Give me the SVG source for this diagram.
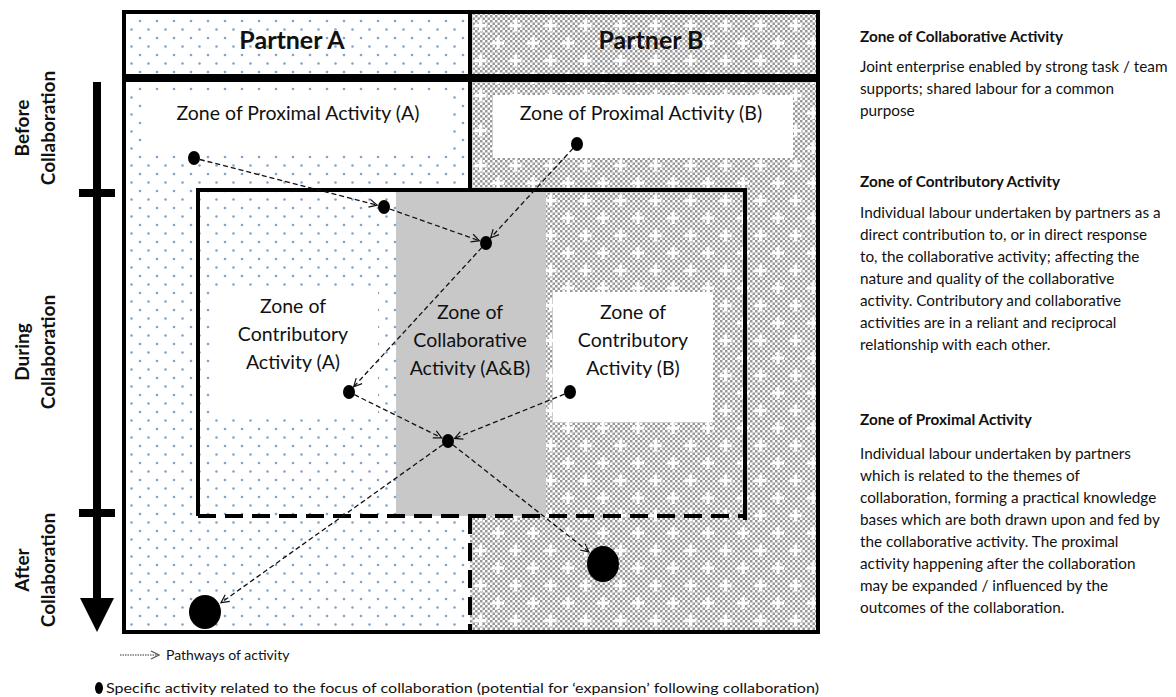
<svg xmlns="http://www.w3.org/2000/svg" width="1176" height="697" viewBox="0 0 1176 697">
<defs>
<pattern id="dots" width="17" height="17" patternUnits="userSpaceOnUse"><rect width="17" height="17" fill="#fff"/><circle cx="4" cy="4" r="1.3" fill="#7fa6c9"/><circle cx="12.5" cy="12.5" r="1.3" fill="#7fa6c9"/></pattern>
<pattern id="chk" width="5" height="5" patternUnits="userSpaceOnUse"><rect width="5" height="5" fill="#fff"/><rect width="2.5" height="2.5" fill="#999"/><rect x="2.5" y="2.5" width="2.5" height="2.5" fill="#999"/></pattern>
<pattern id="plus" width="35" height="35" patternUnits="userSpaceOnUse"><path d="M8 2v12M2 8h12M25.5 19.5v12M19.5 25.5h12" stroke="#fff" stroke-width="3"/></pattern>
<marker id="arr" viewBox="0 0 10 10" refX="9" refY="5" markerWidth="10" markerHeight="10" markerUnits="userSpaceOnUse" orient="auto"><path d="M1 1L9 5L1 9" fill="none" stroke="#111" stroke-width="1.2"/></marker>
<marker id="arrL" viewBox="0 0 10 10" refX="9" refY="5" markerWidth="10" markerHeight="10" markerUnits="userSpaceOnUse" orient="auto"><path d="M1 1L9 5L1 9" fill="none" stroke="#555" stroke-width="1.2"/></marker>
</defs>
<style>
text{font-family:Lato,"Open Sans","Liberation Sans",sans-serif;fill:#111}
.zl{font-size:19.5px;text-anchor:middle}
.hd{font-size:25px;font-weight:bold;text-anchor:middle}
.ax{font-size:19px;font-weight:bold;text-anchor:middle}
.rt{font-size:15.3px;font-weight:bold}
.rb{font-size:15.3px}
.lg{font-size:14px}
.frame{fill:none;stroke:#000;stroke-width:4}
.conn{fill:none;stroke:#111;stroke-width:1.3;stroke-dasharray:5 3;marker-end:url(#arr)}
.dot{fill:#000}
</style>
<rect width="1176" height="697" fill="#fff"/>

<g id="partner-headers">
<rect x="124" y="12" width="346" height="64" fill="url(#dots)"/>
<rect x="470" y="12" width="348" height="64" fill="url(#chk)"/>
<rect x="470" y="12" width="348" height="64" fill="url(#plus)"/>
<rect x="124" y="12" width="694" height="64" class="frame"/>
<line x1="470" y1="12" x2="470" y2="76" stroke="#000" stroke-width="4"/>
<text x="292" y="49" class="hd">Partner A</text>
<text x="651" y="49" class="hd">Partner B</text>
</g>

<g id="main-area">
<rect x="124" y="80" width="346" height="552" fill="url(#dots)"/>
<rect x="470" y="80" width="348" height="552" fill="url(#chk)"/>
<rect x="470" y="80" width="348" height="552" fill="url(#plus)"/>
</g>

<g id="zone-proximal-a">
<rect x="146" y="91" width="306" height="64" fill="#fff"/>
<text x="298" y="120" class="zl">Zone of Proximal Activity (A)</text>
</g>
<g id="zone-proximal-b">
<rect x="493" y="95" width="300" height="63" fill="#fff"/>
<text x="641" y="120" class="zl">Zone of Proximal Activity (B)</text>
</g>

<g id="zone-collaborative">
<rect x="396" y="190" width="150" height="326" fill="#c8c8c8"/>
<text class="zl"><tspan x="470" y="319">Zone of</tspan><tspan x="470" y="347">Collaborative</tspan><tspan x="470" y="375">Activity (A&amp;B)</tspan></text>
</g>

<g id="zone-contributory-a">
<rect x="212" y="288" width="166" height="130" fill="#fff"/>
<text class="zl"><tspan x="293" y="313">Zone of</tspan><tspan x="293" y="341">Contributory</tspan><tspan x="293" y="369">Activity (A)</tspan></text>
</g>
<g id="zone-contributory-b">
<rect x="553" y="292" width="160" height="130" fill="#fff"/>
<text class="zl"><tspan x="633" y="319">Zone of</tspan><tspan x="633" y="347">Contributory</tspan><tspan x="633" y="375">Activity (B)</tspan></text>
</g>

<g id="frames">
<rect x="124" y="80" width="694" height="552" class="frame"/>
<line x1="470" y1="80" x2="470" y2="190" stroke="#000" stroke-width="4"/>
<path d="M198 516V190H745V520" fill="none" stroke="#000" stroke-width="4"/>
<line x1="198" y1="516" x2="745" y2="516" stroke="#000" stroke-width="4" stroke-dasharray="18 9"/>
<line x1="470" y1="516" x2="470" y2="632" stroke="#000" stroke-width="4" stroke-dasharray="18 9"/>
</g>

<g id="time-axis">
<rect x="93" y="82" width="8" height="518" fill="#000"/>
<polygon points="80,598 114,598 97,632" fill="#000"/>
<rect x="79" y="189" width="36" height="8" fill="#000"/>
<rect x="79" y="509" width="36" height="8" fill="#000"/>
<text class="ax" transform="translate(29,128) rotate(-90)">Before</text>
<text class="ax" transform="translate(55,128) rotate(-90)">Collaboration</text>
<text class="ax" transform="translate(29,352) rotate(-90)">During</text>
<text class="ax" transform="translate(55,352) rotate(-90)">Collaboration</text>
<text class="ax" transform="translate(29,570) rotate(-90)">After</text>
<text class="ax" transform="translate(55,570) rotate(-90)">Collaboration</text>
</g>

<g id="connectors">
<path class="conn" d="M199.8 159.5L377.2 205.2"/>
<path class="conn" d="M389.7 209L479.4 240.7"/>
<path class="conn" d="M573 148.4L490.7 237.8"/>
<path class="conn" d="M481.9 247.4L353.7 386.8"/>
<path class="conn" d="M354.4 394.7L441.7 437.9"/>
<path class="conn" d="M564.4 394.2L454.5 438.4"/>
<path class="conn" d="M443.1 444.5L221 602.7"/>
<path class="conn" d="M452.7 444.7L588.9 551.9"/>
</g>

<g id="activities">
<ellipse class="dot" cx="194" cy="158" rx="6" ry="7"/>
<ellipse class="dot" cx="384" cy="207" rx="6" ry="7"/>
<ellipse class="dot" cx="486" cy="243" rx="6" ry="7"/>
<ellipse class="dot" cx="577" cy="144" rx="6" ry="7"/>
<ellipse class="dot" cx="349" cy="392" rx="6" ry="7"/>
<ellipse class="dot" cx="570" cy="392" rx="6" ry="7"/>
<ellipse class="dot" cx="448" cy="441" rx="6" ry="7"/>
<ellipse class="dot" cx="205" cy="612" rx="16" ry="17"/>
<ellipse class="dot" cx="603" cy="564" rx="16" ry="18"/>
</g>

<g id="legend">
<line x1="120" y1="655" x2="159" y2="655" stroke="#777" stroke-width="1.5" stroke-dasharray="1.5 1" marker-end="url(#arrL)"/>
<text x="166" y="660" class="lg">Pathways of activity</text>
<ellipse cx="99" cy="688" rx="4" ry="6" fill="#000"/>
<text x="106" y="693" class="lg" textLength="713" lengthAdjust="spacingAndGlyphs">Specific activity related to the focus of collaboration (potential for ‘expansion’ following collaboration)</text>
</g>

<g id="descriptions">
<text x="860" y="42" class="rt">Zone of Collaborative Activity</text>
<text class="rb"><tspan x="860" y="72">Joint enterprise enabled by strong task / team</tspan><tspan x="860" y="94">supports; shared labour for a common</tspan><tspan x="860" y="116">purpose</tspan></text>
<text x="860" y="187" class="rt">Zone of Contributory Activity</text>
<text class="rb"><tspan x="860" y="218">Individual labour undertaken by partners as a</tspan><tspan x="860" y="240">direct contribution to, or in direct response</tspan><tspan x="860" y="262">to, the collaborative activity; affecting the</tspan><tspan x="860" y="284">nature and quality of the collaborative</tspan><tspan x="860" y="306">activity. Contributory and collaborative</tspan><tspan x="860" y="328">activities are in a reliant and reciprocal</tspan><tspan x="860" y="350">relationship with each other.</tspan></text>
<text x="860" y="425" class="rt">Zone of Proximal Activity</text>
<text class="rb"><tspan x="860" y="459">Individual labour undertaken by partners</tspan><tspan x="860" y="481">which is related to the themes of</tspan><tspan x="860" y="503">collaboration, forming a practical knowledge</tspan><tspan x="860" y="525">bases which are both drawn upon and fed by</tspan><tspan x="860" y="547">the collaborative activity. The proximal</tspan><tspan x="860" y="569">activity happening after the collaboration</tspan><tspan x="860" y="591">may be expanded / influenced by the</tspan><tspan x="860" y="613">outcomes of the collaboration.</tspan></text>
</g>
</svg>
